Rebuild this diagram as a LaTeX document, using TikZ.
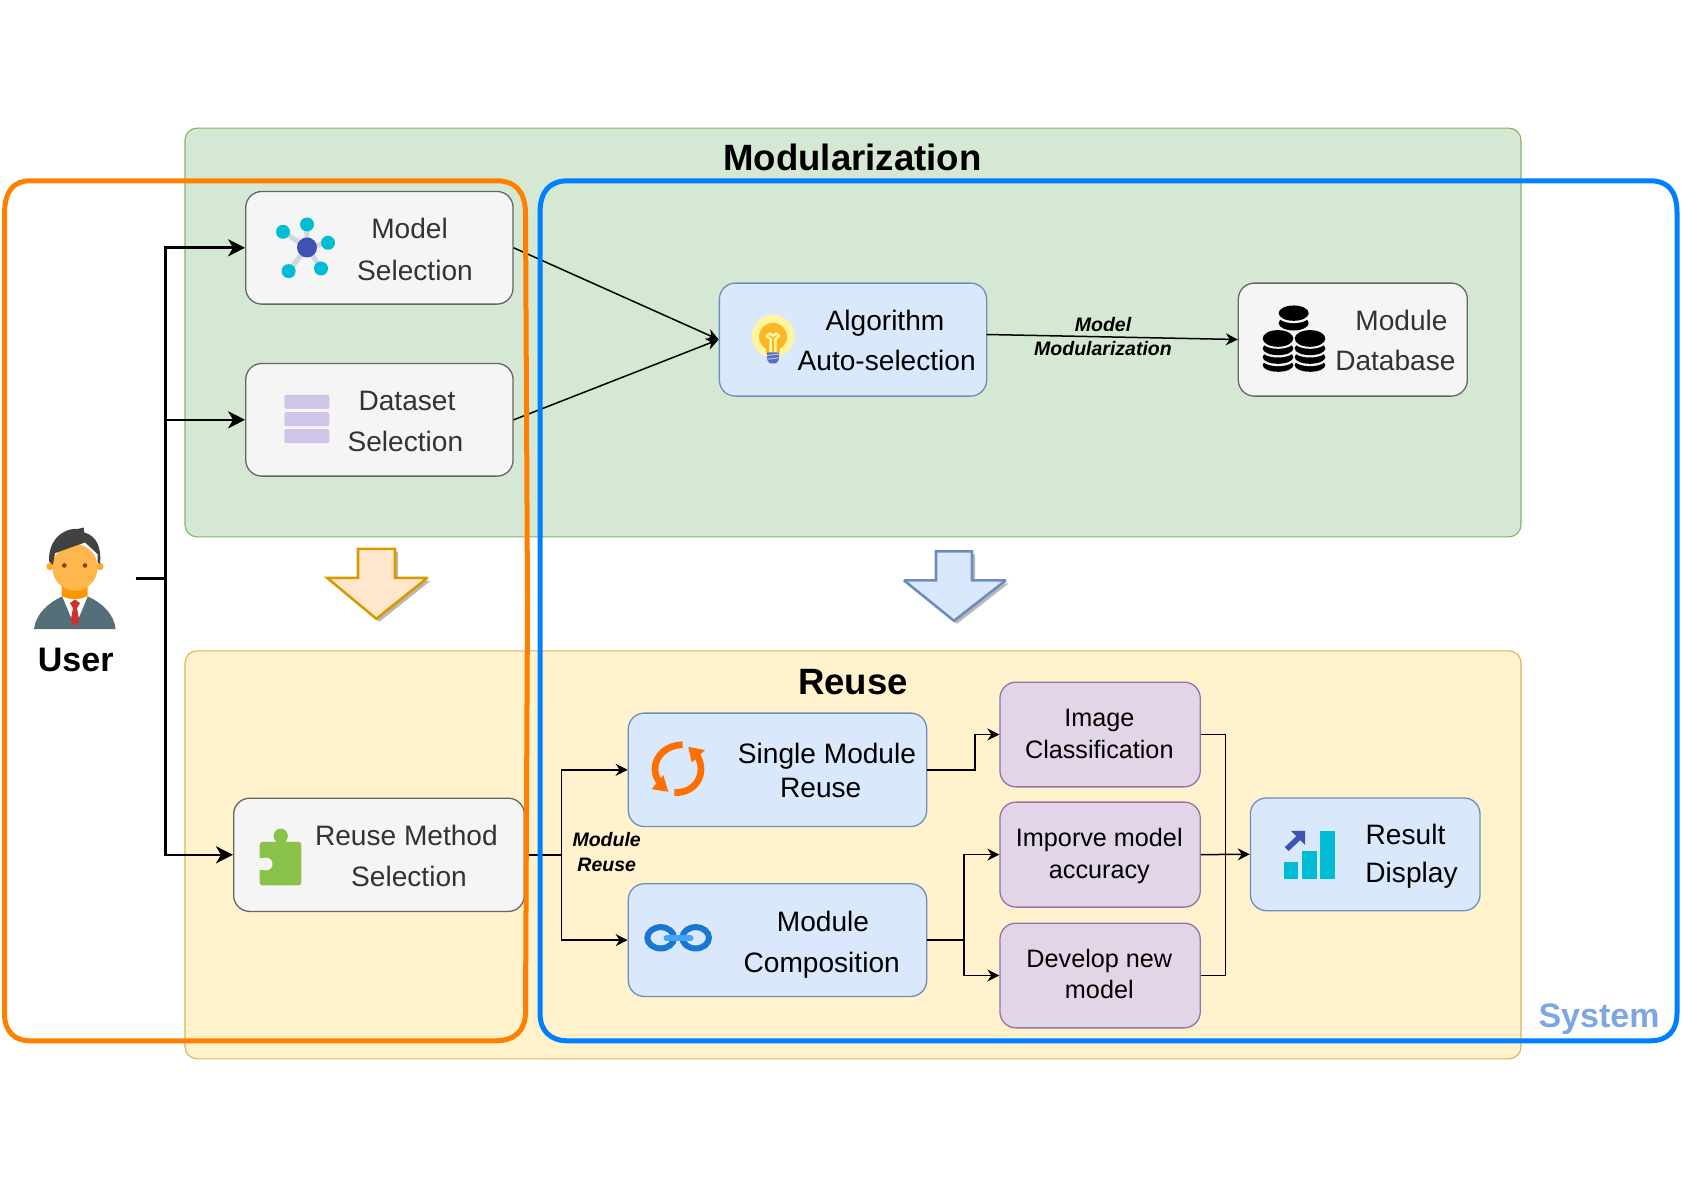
\documentclass[tikz,border=0pt]{standalone}
\usepackage{fontspec}
\setmainfont{Liberation Sans}
\usetikzlibrary{arrows.meta,calc}
\definecolor{greyS}{HTML}{666666}\definecolor{greyF}{HTML}{F5F5F5}
\definecolor{blueS}{HTML}{6C8EBF}\definecolor{blueF}{HTML}{DAE8FC}
\definecolor{purpS}{HTML}{9673A6}\definecolor{purpF}{HTML}{E1D5E7}
\definecolor{greenS}{HTML}{82B366}\definecolor{greenF}{HTML}{D5E8D4}
\definecolor{yellS}{HTML}{D6B656}\definecolor{yellF}{HTML}{FFF2CC}
\definecolor{oranS}{HTML}{D79B00}\definecolor{oranF}{HTML}{FFE6CC}
\definecolor{txtgrey}{HTML}{333333}
\definecolor{frameO}{HTML}{FF8000}\definecolor{frameB}{HTML}{007FFF}
\definecolor{sysblue}{HTML}{7EA6E0}
\definecolor{icoCyan}{HTML}{00BCD4}\definecolor{icoIndigo}{HTML}{3F51B5}
\definecolor{icoEdge}{HTML}{CFD8DC}\definecolor{icoLilac}{HTML}{D1C4E9}
\definecolor{icoGreen}{HTML}{8BC34A}\definecolor{icoSync}{HTML}{FF6F00}
\definecolor{icoChainD}{HTML}{1976D2}\definecolor{icoChainL}{HTML}{42A5F5}
\definecolor{bulbO}{HTML}{FFF59D}\definecolor{bulbI}{HTML}{FBC02D}\definecolor{bulbB}{HTML}{5C6BC0}
\definecolor{skin}{HTML}{FFB74D}\definecolor{skinD}{HTML}{FFA726}\definecolor{neckC}{HTML}{FF9800}
\definecolor{hairC}{HTML}{424242}\definecolor{suitC}{HTML}{546E7A}\definecolor{tieC}{HTML}{D32F2F}\definecolor{eyeC}{HTML}{784719}
\tikzset{
  panel/.style={rectangle,rounded corners=12pt,line width=1.1pt,inner sep=0pt},
  basebox/.style={rectangle,rounded corners=16pt,line width=1.3pt,inner sep=0pt},
  greybox/.style={basebox,draw=greyS,fill=greyF},
  bluebox/.style={basebox,draw=blueS,fill=blueF},
  purpbox/.style={basebox,draw=purpS,fill=purpF},
  lab/.style={anchor=base,inner sep=0pt,font=\fontsize{28.1}{30}\selectfont},
  greylab/.style={lab,text=txtgrey},
  purplab/.style={anchor=base,inner sep=0pt,font=\fontsize{25.2}{28}\selectfont},
  edgelab/.style={anchor=base,inner sep=0pt,font=\fontsize{19.5}{22}\selectfont\bfseries\itshape},
  headlab/.style={anchor=base,inner sep=0pt,font=\fontsize{36.6}{40}\selectfont\bfseries},
  biglab/.style={anchor=base,inner sep=0pt,font=\fontsize{34}{36}\selectfont\bfseries},
  thickarrow/.style={line width=2.6pt,-{Stealth[length=17pt,width=17pt,inset=5pt]}},
  thickline/.style={line width=2.6pt},
  thinarrow/.style={line width=1.5pt,-{Stealth[length=12pt,width=12pt,inset=4pt]}},
  thinline/.style={line width=1.5pt},
}
\begin{document}
\begin{tikzpicture}[x=1pt,y=-1pt]
\useasboundingbox (0,-0.8) rectangle (1683,1189.2);
% panels
\node[panel,draw=greenS,fill=greenF,minimum width=1336pt,minimum height=408.7pt] (modpanel) at (853,331.7) {};
\node[panel,draw=yellS,fill=yellF,minimum width=1336pt,minimum height=408pt] (reusepanel) at (853,854) {};
\node[headlab] (modtitle) at (852.5,169.3) {Modularization};
\node[headlab] (reusetitle) at (853,693.3) {Reuse};
% big arrows
\fill[gray!55] (361,551) -- (398,551) -- (398,580) -- (430.5,580) -- (379.4,621) -- (330,580) -- (361,580) -- cycle;
\draw[line width=2.6pt,draw=oranS,fill=oranF,miter limit=3] (358,548) -- (395,548) -- (395,577) -- (427.5,577) -- (376.4,618) -- (327,577) -- (358,577) -- cycle;
\fill[gray!55] (939,553.6) -- (975,553.6) -- (975,582.6) -- (1008.7,582.6) -- (957,623) -- (907,582.6) -- (939,582.6) -- cycle;
\draw[line width=2.6pt,draw=blueS,fill=blueF,miter limit=3] (936,550.6) -- (972,550.6) -- (972,579.6) -- (1005.7,579.6) -- (954,620) -- (904,579.6) -- (936,579.6) -- cycle;
% boxes
\node[greybox,minimum width=267.3pt,minimum height=112.6pt] (model) at (379.4,247) {};
\node[greybox,minimum width=267.3pt,minimum height=112.6pt] (dataset) at (379.4,419) {};
\node[greybox,minimum width=290.7pt,minimum height=113.2pt] (reuse) at (379,854) {};
\node[bluebox,minimum width=267.3pt,minimum height=113pt] (algo) at (853,338.8) {};
\node[greybox,minimum width=229pt,minimum height=113pt] (moddb) at (1352.8,338.8) {};
\node[bluebox,minimum width=298.4pt,minimum height=113.4pt] (single) at (777.5,769) {};
\node[bluebox,minimum width=298.4pt,minimum height=112.7pt] (comp) at (777.5,939.3) {};
\node[purpbox,minimum width=200.3pt,minimum height=104.7pt] (image) at (1100.1,733.7) {};
\node[purpbox,minimum width=200.3pt,minimum height=105pt] (improve) at (1100.1,853.8) {};
\node[purpbox,minimum width=200.3pt,minimum height=104.7pt] (develop) at (1100.1,974.7) {};
\node[bluebox,minimum width=229.6pt,minimum height=112.7pt] (result) at (1365.2,853.5) {};
% box labels
\node[greylab] (t1) at (409.6,238) {Model};
\node[greylab] (t2) at (415,279.3) {Selection};
\node[greylab] (t3) at (407,410) {Dataset};
\node[greylab] (t4) at (405.4,450.7) {Selection};
\node[greylab] (t5) at (406.4,844.6) {Reuse Method};
\node[greylab] (t6) at (409,885.7) {Selection};
\node[lab] (t7) at (885,329.3) {Algorithm};
\node[lab] (t8) at (886.7,370) {Auto-selection};
\node[greylab] (t9) at (1401.5,329.3) {Module};
\node[greylab] (t10) at (1395.4,370) {Database};
\node[lab] (t11) at (827,762.7) {Single Module};
\node[lab] (t12) at (820.7,796.7) {Reuse};
\node[lab] (t13) at (823,930.7) {Module};
\node[lab] (t14) at (821.7,971.7) {Composition};
\node[purplab] (t15) at (1099.3,726) {Image};
\node[purplab] (t16) at (1099.3,758) {Classification};
\node[purplab] (t17) at (1099.3,846) {Imporve model};
\node[purplab] (t18) at (1099.3,878) {accuracy};
\node[purplab] (t19) at (1099.3,966.7) {Develop new};
\node[purplab] (t20) at (1099.3,998) {model};
\node[lab] (t21) at (1405.5,843.3) {Result};
\node[lab] (t22) at (1411.5,881.7) {Display};
\node[edgelab] (e1) at (1103,331) {Model};
\node[edgelab] (e2) at (1103,355) {Modularization};
\node[edgelab] (e3) at (606.7,846) {Module};
\node[edgelab] (e4) at (606.7,870.7) {Reuse};
\node[biglab] (userlab) at (75.7,671) {User};
\node[biglab,text=sysblue] (systemlab) at (1599,1027) {System};
% connector junctions
\coordinate (userout) at (135.7,577.5);
\coordinate (bus) at (165.7,577.5);
\coordinate (algoout) at (986.7,333.7);
\coordinate (dbin) at (1237.8,338.7);
\coordinate (rbend) at (561.7,854);
\coordinate (sbend) at (975,769);
\coordinate (cbend) at (964,939.3);
\coordinate (mergex) at (1225.6,853.8);
% connectors
\draw[thickline] (userout) -- (bus);
\draw[thickarrow] (bus) |- (model.west);
\draw[thickarrow] (bus) |- (dataset.west);
\draw[thickarrow] (bus) |- (reuse.west);
\draw[thinarrow] (model.east) -- (algo.west);
\draw[thinarrow] (dataset.east) -- (algo.west);
\draw[thinarrow] (algoout) -- (dbin);
\draw[thinline] (reuse.east) -- (rbend);
\draw[thinarrow] (rbend) |- (single.west);
\draw[thinarrow] (rbend) |- (comp.west);
\draw[thinarrow] (single.east) -- (sbend) |- (image.west);
\draw[thinline] (comp.east) -- (cbend);
\draw[thinarrow] (cbend) |- (improve.west);
\draw[thinarrow] (cbend) |- (develop.west);
\draw[thinline] (image.east) -| (mergex);
\draw[thinline] (develop.east) -| (mergex);
\draw[thinarrow] (improve.east) -- (result.west);
% model icon
\begin{scope}[shift={(250,190)},x=0.3333pt,y=-0.3333pt]
  \draw[icoEdge,line width=5pt] (171,170) -- (99,123) (171,170) -- (171,101) (171,170) -- (234,156) (171,170) -- (116,241) (171,170) -- (213,233);
  \fill[icoCyan] (99,123) circle[radius=21] (171,101) circle[radius=21] (234,156) circle[radius=21] (116,241) circle[radius=21] (213,233) circle[radius=21];
  \fill[icoIndigo] (171,170) circle[radius=30];
  \fill[icoLilac,rounded corners=2pt] (103,612) rectangle (238,654);
  \fill[icoLilac,rounded corners=2pt] (103,664) rectangle (238,706);
  \fill[icoLilac,rounded corners=2pt] (103,715) rectangle (238,757);
\end{scope}
% puzzle icon
\begin{scope}[shift={(0,500)},x=0.35714pt,y=-0.35714pt]
  \fill[icoGreen] (786,938) circle[radius=20];
  \fill[icoGreen] (772,940) rectangle (800,960);
  \fill[icoGreen,rounded corners=3pt] (727,955) rectangle (844,1077);
  \fill[greyF] (745,1017) circle[radius=18];
  \fill[greyF] (720,1000) rectangle (738,1034);
\end{scope}
% bulb icon
\begin{scope}[shift={(740,300)},x=0.3333pt,y=-0.3333pt]
  \fill[bulbO] (99,106) circle[radius=64];
  \fill[bulbI!85!orange] (99,108) circle[radius=42];
  \fill[bulbI!85!orange] (78,130) rectangle (120,155);
  \draw[bulbO,line width=2.5pt,line join=round] (92,155) -- (92,115) -- (80,105) -- (90,98) -- (99,105) -- (108,98) -- (118,105) -- (106,115) -- (106,155);
  \fill[bulbB] (80,155) -- (118,155) -- (116,178) -- (108,188) -- (90,188) -- (82,178) -- cycle;
  \draw[blueF!70!bulbB,line width=1pt] (81,164) -- (117,160) (83,175) -- (116,171);
\end{scope}
% database icon
\begin{scope}[shift={(1250,295)},x=0.3333pt,y=-0.3333pt]
  \foreach \cx/\ya/\yb/\yc/\yd in {84/128/158/184/208,180/128/158/184/208}{
    \fill[black] (\cx,\yd) ellipse[x radius=46,y radius=20];
    \fill[greyF] (\cx,\yc+5) ellipse[x radius=50,y radius=22];
    \fill[black] (\cx,\yc) ellipse[x radius=46,y radius=20];
    \fill[greyF] (\cx,\yb+5) ellipse[x radius=50,y radius=22];
    \fill[black] (\cx,\yb) ellipse[x radius=46,y radius=20];
    \fill[greyF] (\cx,\ya+6) ellipse[x radius=50,y radius=25];
    \fill[black] (\cx,\ya) ellipse[x radius=46,y radius=25];
  }
  \fill[black] (131,82) ellipse[x radius=45,y radius=22];
  \fill[greyF] (131,58) ellipse[x radius=49,y radius=24];
  \fill[black] (131,52) ellipse[x radius=45,y radius=23];
\end{scope}
% sync icon
\begin{scope}[shift={(640,730)},x=0.3333pt,y=-0.3333pt]
  \draw[icoSync,line width=6.7pt] (128,42) .. controls (80,42) and (45,75) .. (45,115) .. controls (45,132) and (52,148) .. (62,158);
  \fill[icoSync] (35,175) -- (85,183) -- (70,133) -- cycle;
  \draw[icoSync,line width=6.7pt] (103,185) .. controls (150,188) and (183,155) .. (183,115) .. controls (183,100) and (178,85) .. (170,72);
  \fill[icoSync] (145,48) -- (195,58) -- (155,95) -- cycle;
\end{scope}
% chain icon
\begin{scope}[shift={(640,910)},x=0.3333pt,y=-0.3333pt]
  \draw[icoChainD,line width=6pt] (62,81) ellipse[x radius=40,y radius=32];
  \draw[icoChainD,line width=6pt] (167,81) ellipse[x radius=40,y radius=32];
  \draw[icoChainL,line width=5.6pt,line cap=round] (79,82) -- (152,82);
\end{scope}
% chart icon
\begin{scope}[shift={(1270,820)},x=0.3333pt,y=-0.3333pt]
  \fill[icoCyan] (42,124) rectangle (85,176);
  \fill[icoCyan] (96,91) rectangle (140,176);
  \fill[icoCyan] (151,32) rectangle (195,176);
  \draw[icoIndigo,line width=5.5pt] (50,85) -- (90,47);
  \fill[icoIndigo] (63,30) -- (105,30) -- (105,72) -- cycle;
\end{scope}
% user figure
\begin{scope}[shift={(25,520)},x=0.3333pt,y=-0.3333pt]
  \fill[suitC] (27,325) .. controls (32,280) and (70,245) .. (112,227) -- (188,227) .. controls (230,245) and (268,280) .. (272,325) -- cycle;
  \fill[white] (112,227) -- (188,227) -- (150,318) -- cycle;
  \fill[neckC] (110,185) -- (188,185) -- (188,225) .. controls (170,238) and (130,238) .. (110,225) -- cycle;
  \fill[tieC] (135,247) -- (150,236) -- (165,247) -- (156,262) -- (163,300) -- (150,318) -- (137,300) -- (144,262) -- cycle;
  \fill[skinD] (75,137) circle[radius=11] (225,137) circle[radius=11];
  \fill[skin] (150,140) ellipse[x radius=68,y radius=70];
  \fill[hairC] (84,132) -- (72,122) .. controls (70,60) and (110,22) .. (160,24) -- (176,20) -- (178,35) .. controls (215,45) and (230,80) .. (225,130) -- (218,124) -- (218,100) -- (180,65) -- (90,97) -- cycle;
  \fill[eyeC] (118,134) circle[radius=7] (180,134) circle[radius=7];
\end{scope}
% outlines
\draw[frameO,line width=5pt] (4.6,212) .. controls (4.6,190) and (14,180) .. (30,180) -- (496,180) .. controls (515,180) and (525,190) .. (525.5,212) -- (527.5,600) -- (525.5,1012) .. controls (525,1030) and (515,1040) .. (495,1040) -- (30,1040) .. controls (14,1040) and (4.6,1030) .. (4.6,1014) -- cycle;
\draw[frameB,line width=5pt] (540,212) .. controls (540,190) and (550,180) .. (568,180) -- (1650,180) .. controls (1668,180) and (1677,190) .. (1677,212) -- (1677,1012) .. controls (1677,1030) and (1668,1040) .. (1650,1040) -- (568,1040) .. controls (550,1040) and (540,1030) .. (540,1012) -- cycle;
\end{tikzpicture}
\end{document}
